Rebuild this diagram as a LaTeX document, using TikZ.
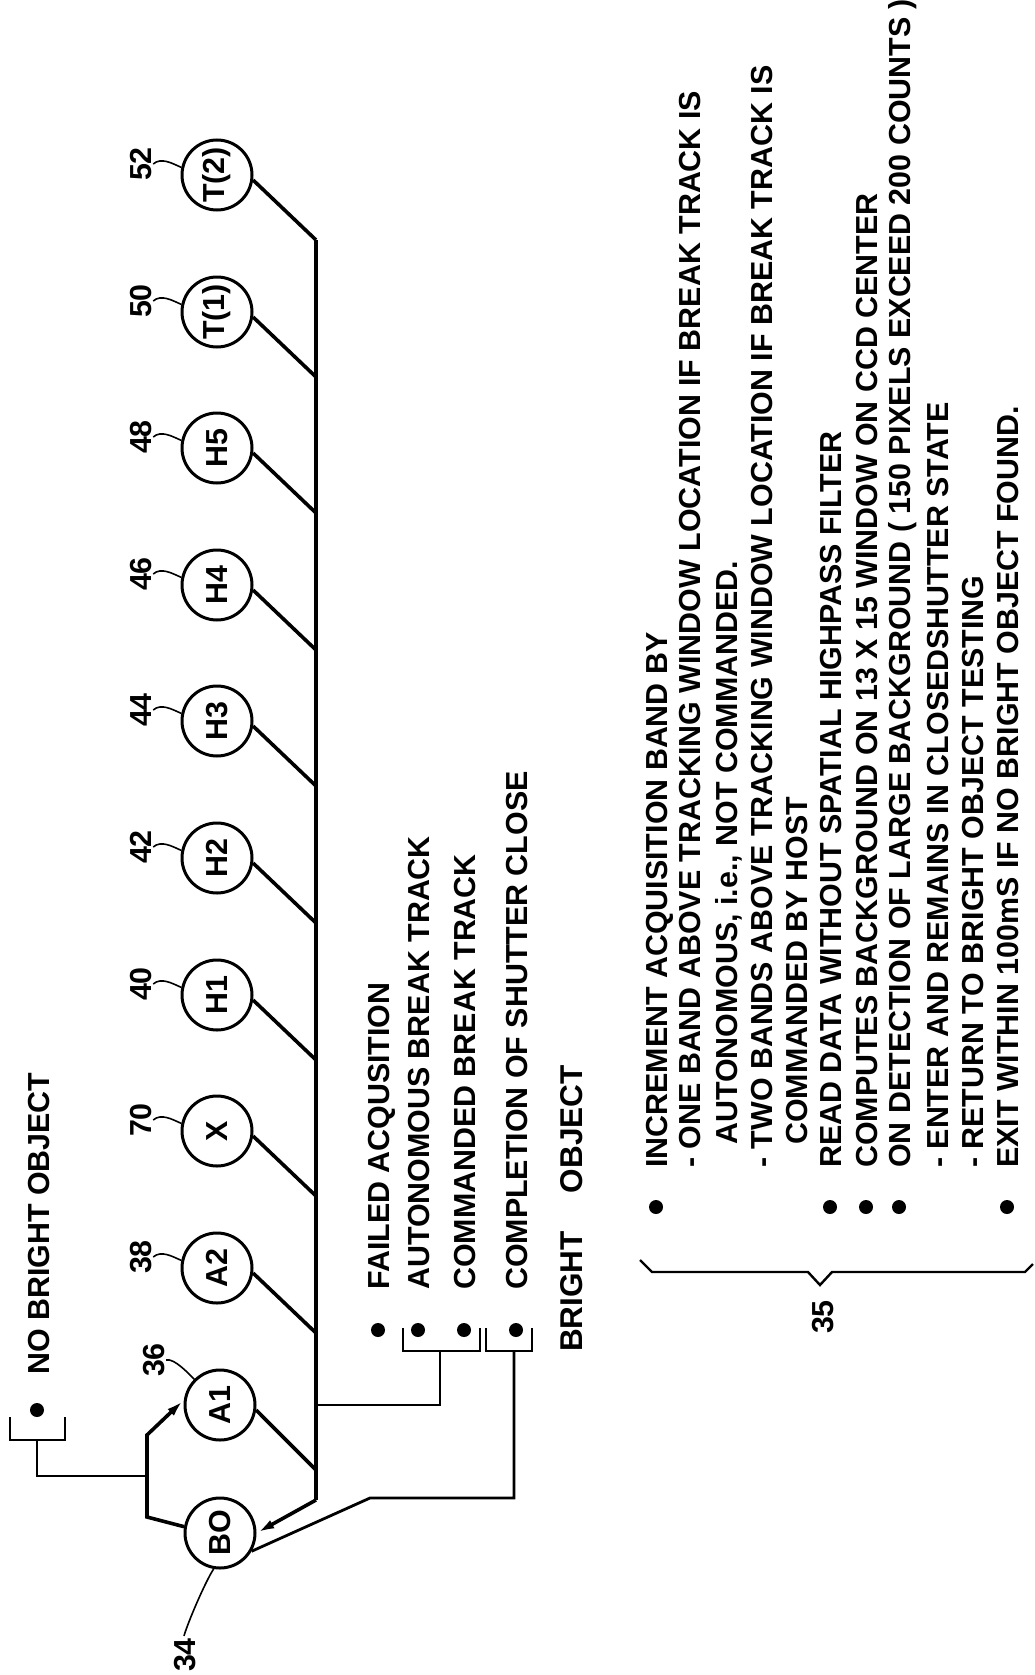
\documentclass[tikz,border=0pt]{standalone}
\usepackage{fontspec}
\setmainfont{Liberation Sans}
\usetikzlibrary{arrows.meta, calc}
\newcommand{\figfont}{\fontsize{30.4}{31}\selectfont\bfseries}
\newcommand{\bigfont}{\fontsize{31.5}{32}\selectfont\bfseries}
\tikzset{
  statecirc/.style={circle, draw, line width=3pt, minimum size=70pt, inner sep=0pt, font=\figfont},
  wire/.style={line width=3.6pt},
  link/.style={line width=2.8pt},
  lead/.style={line width=1.6pt},
  dotmark/.style={circle, fill, inner sep=0pt, minimum size=14pt},
  vtext/.style={rotate=90, anchor=west, inner sep=0pt, text height=22pt, text depth=0pt, font=\figfont},
  reflbl/.style={rotate=90, inner sep=2pt, text height=22pt, text depth=0pt, font=\figfont},
  arrowtip/.style={-{Latex[length=18pt,width=9pt]}}
}
\begin{document}
\begin{tikzpicture}[x=1pt, y=-1pt]
    \useasboundingbox (0,0) rectangle (1035,1675);

    % Estados en la cadena
    \foreach \nm/\txt/\yy/\rf in {T2/T(2)/175/52, T1/T(1)/312/50, H5/H5/448/48, H4/H4/585/46,
        H3/H3/721/44, H2/H2/858/42, H1/H1/995/40, X/X/1131/70, A2/A2/1268/38} {
        \node[statecirc] (\nm) at (217,\yy) {\rotatebox{90}{\txt}};
        \coordinate (j\nm) at (316,\yy+65);
        \draw[wire] (\nm.-8) -- (j\nm);
        \node[reflbl] (r\nm) at (140,\yy-11) {\rf};
        \draw[lead] (r\nm.south) .. controls +(8,-7) and +(-9,-4) .. (\nm.168);
    }

    \node[statecirc] (A1) at (220,1405) {\rotatebox{90}{A1}};
    \node[statecirc] (BO) at (220,1533) {\rotatebox{90}{BO}};
    \coordinate (jA1) at (316,1470);
    \draw[wire] (A1.-8) -- (jA1);
    \node[reflbl] (rA1) at (153,1360) {36};
    \draw[lead] (rA1.south) .. controls +(8,-2) and +(-6,-6) .. (A1.135);
    \node[reflbl] (rBO) at (184,1655) {34};
    \draw[lead] (BO.-100) .. controls +(-8,12) and +(4,-14) .. (rBO.east);

    % Linea principal
    \coordinate (tb) at (316,1500);
    \draw[wire] (jT2) -- (tb);
    \draw[wire, arrowtip] (tb) -- (BO.east);

    % No bright object
    \node[dotmark] (nbdot) at (37,1410) {};
    \node[vtext] (nbtxt) at (38,1375) {NO BRIGHT OBJECT};
    \draw[link] (10,1417) -- (10,1440) -- (65,1440) -- (65,1417);
    \coordinate (nbb) at (37,1440);
    \coordinate (sp) at (147,1476);
    \coordinate (su) at (147,1435);
    \coordinate (sd) at (147,1517);
    \draw[link] (nbb) -- (37,1476) -- (sp);
    \draw[wire, arrowtip] (BO.170) -- (sd) -- (su) -- (A1.172);

    % Eventos
    \foreach \cx/\txt in {378/FAILED ACQUSITION, 418/AUTONOMOUS BREAK TRACK,
        464/COMMANDED BREAK TRACK, 516/COMPLETION OF SHUTTER CLOSE} {
        \node[dotmark] (md\cx) at (\cx,1330) {};
        \node[vtext] (mt\cx) at (\cx,1290) {\txt};
    }
    \node[vtext, font=\bigfont] (bright) at (571,1352) {BRIGHT\hspace{38pt}OBJECT};

    \draw[link] (403,1328) -- (403,1351) -- (480,1351) -- (480,1328);
    \draw[link] (486,1328) -- (486,1351) -- (532,1351) -- (532,1328);
    \coordinate (tc) at (316,1405);
    \coordinate (cb1) at (440,1351);
    \coordinate (cb2) at (514,1351);
    \draw[link] (tc) -- (440,1405) -- (cb1);
    \draw[link] (cb2) -- (514,1498) -- (370,1498) -- (BO.-30);

    % Lista de acciones
    \foreach \cx/\ys/\txt in {656/1168/{INCREMENT ACQUISITION BAND BY},
        689/1168/{- ONE BAND ABOVE TRACKING WINDOW LOCATION IF BREAK TRACK IS},
        726/1145/{AUTONOMOUS, i.e., NOT COMMANDED.},
        761/1168/{- TWO BANDS ABOVE TRACKING WINDOW LOCATION IF BREAK TRACK IS},
        796/1145/{COMMANDED BY HOST},
        830/1168/{READ DATA WITHOUT SPATIAL HIGHPASS FILTER},
        866/1168/{COMPUTES BACKGROUND ON 13 X 15 WINDOW ON CCD CENTER},
        899/1168/{ON DETECTION OF LARGE BACKGROUND ( 150 PIXELS EXCEED 200 COUNTS )},
        937/1168/{- ENTER AND REMAINS IN CLOSEDSHUTTER STATE},
        972/1168/{- RETURN TO BRIGHT OBJECT TESTING},
        1007/1168/{EXIT WITHIN 100mS IF NO BRIGHT OBJECT FOUND.}} {
        \node[vtext] (ac\cx) at (\cx,\ys) {\txt};
    }
    \foreach \cx in {656,830,866,899,1007} {
        \node[dotmark] (ad\cx) at (\cx,1207) {};
    }

    % Llave 35
    \draw[link, line width=2.4pt] (640,1260) -- (652,1272) -- (808,1272) -- (820,1285)
        -- (832,1272) -- (1025,1272) -- (1033,1264);
    \node[reflbl] (r35) at (822,1317) {35};

\end{tikzpicture}
\end{document}
